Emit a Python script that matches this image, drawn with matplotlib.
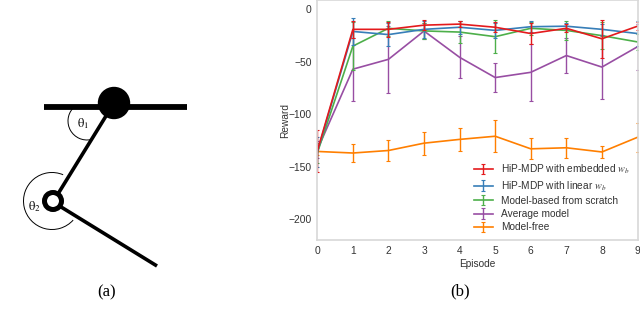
import matplotlib
matplotlib.use('Agg')
import matplotlib.pyplot as plt
from matplotlib.patches import Arc, Circle

plt.rcParams['font.family'] = ['Liberation Sans', 'DejaVu Sans']
plt.rcParams['mathtext.fontset'] = 'stix'

# Reward curves
episodes = [0, 1, 2, 3, 4, 5, 6, 7, 8, 9]
embedded = [-135, -19, -19, -15, -14, -17, -23, -18, -28, -16]
embedded_err = [20, 8, 7, 5, 3, 5, 10, 4, 18, 4]
linear = [-136, -21, -24, -19, -17, -20, -16.5, -16, -19, -23]
linear_err = [14, 13, 11, 8, 6, 7, 5, 3, 5, 12]
scratch = [-137, -35, -18, -20.5, -21.6, -26, -18, -20, -25, -31]
scratch_err = [10, 23, 7, 8, 10.5, 16, 6, 9, 13, 8]
average = [-134, -57, -47.6, -20.6, -45.7, -65, -60, -44, -55, -35.6]
average_err = [8, 30, 32, 8, 20, 14, 27, 17, 30, 22]
model_free = [-135.5, -137, -134.6, -127.6, -124, -121, -133, -132, -136, -122]
model_free_err = [3, 9, 10, 11, 11, 15.5, 10, 9.5, 6, 14]

# Pendulum sketch, in image pixels
bar_x = [44, 187]
bar_y = [107, 107]
upper_link_x = [114, 53]
upper_link_y = [103, 202]
lower_link_x = [53, 157]
lower_link_y = [202, 266]
hub = (114, 103)
joint = (53, 201)

fig = plt.figure(figsize=(6.4, 3.2), dpi=100)

# Left panel uses the whole figure with pixel coordinates
sk = fig.add_axes([0, 0, 1, 1])
sk.set_xlim(0, 640)
sk.set_ylim(320, 0)
sk.axis('off')
sk.plot(bar_x, bar_y, color='black', lw=4.2, solid_capstyle='butt')
sk.plot(upper_link_x, upper_link_y, color='black', lw=2.6, solid_capstyle='butt')
sk.plot(lower_link_x, lower_link_y, color='black', lw=2.6, solid_capstyle='butt')
sk.add_patch(Circle(hub, 15.5, color='black', zorder=3))
sk.add_patch(Circle(joint, 8.5, facecolor='white', edgecolor='black', lw=3.6, zorder=3))
sk.add_patch(Arc((87, 121), 38, 38, theta1=79, theta2=221, color='black', lw=0.7))
sk.add_patch(Arc((52, 201), 57, 57, theta1=42, theta2=293, color='black', lw=0.7))
sk.text(83, 124, r'$\mathrm{\theta_1}$', fontsize=9, ha='center', va='center')
sk.text(34, 207, r'$\mathrm{\theta_2}$', fontsize=9, ha='center', va='center')
sk.text(107, 292, '(a)', family='Liberation Serif', fontsize=12, ha='center', va='center')
sk.text(460, 291, '(b)', family='Liberation Serif', fontsize=12, ha='center', va='center')

# Right panel
ax = fig.add_axes([317.3 / 640, (320 - 240) / 320, (637.5 - 317.3) / 640, 240 / 320])
series = [
    (embedded, embedded_err, '#e41a1c', 'HiP-MDP with embedded $w_b$', 6),
    (linear, linear_err, '#377eb8', 'HiP-MDP with linear $w_b$', 5),
    (scratch, scratch_err, '#4daf4a', 'Model-based from scratch', 4),
    (average, average_err, '#984ea3', 'Average model', 3),
    (model_free, model_free_err, '#ff7f00', 'Model-free', 2),
]
for vals, errs, col, lab, z in series:
    ax.errorbar(episodes, vals, yerr=errs, color=col, label=lab, lw=1.2,
                elinewidth=1.0, capsize=1.5, capthick=0.8, zorder=z)

ax.set_xlim(0, 9)
ax.set_ylim(-220, 9)
ax.set_xticks(episodes)
ax.set_yticks([0, -50, -100, -150, -200])
ax.tick_params(length=0, labelsize=7.4, labelcolor='#333333', pad=4)
ax.set_xlabel('Episode', fontsize=7.3, color='#333333', labelpad=2.5)
ax.set_ylabel('Reward', fontsize=7.3, color='#333333', labelpad=-1)
for s in ax.spines.values():
    s.set_color('#d8d8d8')
    s.set_linewidth(1.2)
    s.set_zorder(10)
ax.patch.set_alpha(0)

ax.legend(loc='lower right', bbox_to_anchor=(0.975, 0.032), frameon=False, fontsize=7.3,
          labelcolor='#333333', handlelength=1.95, handletextpad=0.75, labelspacing=0.32,
          borderpad=0, borderaxespad=0)

fig.savefig('out.png', dpi=100)
